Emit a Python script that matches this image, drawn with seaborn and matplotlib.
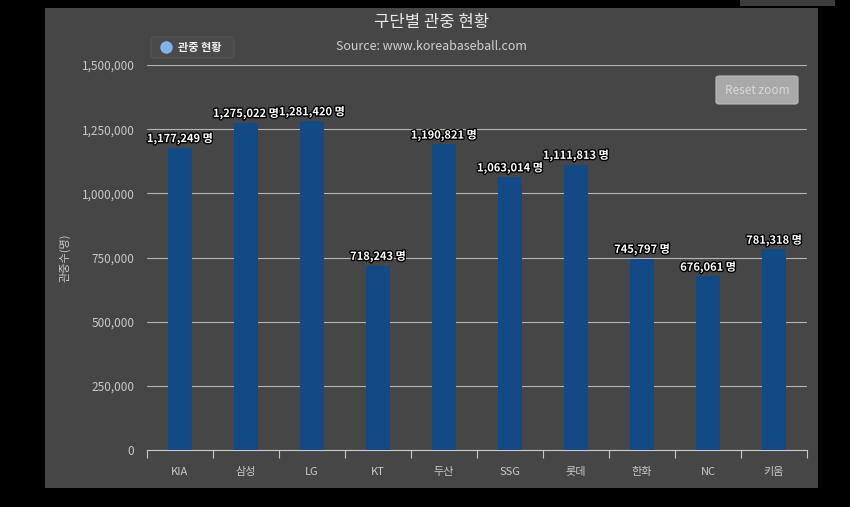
import matplotlib
matplotlib.use("Agg")
import matplotlib.pyplot as plt
import matplotlib.patheffects as pe
from matplotlib.patches import Rectangle, FancyBboxPatch
from matplotlib.lines import Line2D
import numpy as np
import seaborn as sns

# data
teams = ["KIA", "삼성", "LG", "KT", "두산", "SSG", "롯데", "한화", "NC", "키움"]
attendance = [1177249, 1275022, 1281420, 718243, 1190821, 1063014, 1111813, 745797, 676061, 781318]
y_ticks = [0, 250000, 500000, 750000, 1000000, 1250000, 1500000]

sns.set_style("dark")
plt.rcParams["font.family"] = ["Noto Sans CJK KR", "DejaVu Sans"]

W, H = 850, 507
fig = plt.figure(figsize=(W / 100, H / 100), dpi=100, facecolor="black")

def fx(px):
    return px / W

def fy(py):
    return 1 - py / H

# grey chart panel
panel_col = "#464646"
fig.patches.append(Rectangle((fx(45), fy(488)), fx(818 - 45), (488 - 8) / H,
                             transform=fig.transFigure, facecolor=panel_col, edgecolor="none", zorder=-2))
fig.patches.append(Rectangle((fx(740), fy(6)), fx(835 - 740), 6 / H,
                             transform=fig.transFigure, facecolor="#3c3c3c", edgecolor="none", zorder=-2))

ax = fig.add_axes([fx(147), fy(450), fx(807 - 147), (450 - 65) / H])
ax.set_zorder(1)
ax.set_facecolor(panel_col)

sns.barplot(x=teams, y=attendance, color="#124a86", width=0.36, saturation=1,
            edgecolor="none", linewidth=0, ax=ax, zorder=3)

ax.set_ylim(0, 1500000)
ax.set_xlim(-0.5, len(teams) - 0.5)
ax.set_yticks(y_ticks)
ax.set_yticklabels([f"{v:,}" for v in y_ticks], color="#c8c8c8", fontsize=8.5)
ax.yaxis.grid(True, color="#b4b4b4", linewidth=0.8)
ax.xaxis.grid(False)
ax.set_axisbelow(True)
ax.tick_params(axis="y", length=0, pad=9)
ax.tick_params(axis="x", which="major", length=0, pad=12, colors="#c8c8c8", labelsize=8)
ax.set_xticks(np.arange(-0.5, len(teams)), minor=True)
ax.tick_params(axis="x", which="minor", bottom=True, length=6, color="#c8c8c8", width=0.8)
for s in ["top", "right", "left"]:
    ax.spines[s].set_visible(False)
ax.spines["bottom"].set_color("#c8c8c8")
ax.spines["bottom"].set_linewidth(0.8)
ax.set_xlabel("")
ax.set_ylabel("관중수(명)", color="#c8c8c8", fontsize=8, labelpad=8)

for i, v in enumerate(attendance):
    ax.annotate(f"{v:,} 명", (i, v), xytext=(0, 2), textcoords="offset points",
                ha="center", va="bottom", color="white", fontsize=8, fontweight="bold",
                path_effects=[pe.withStroke(linewidth=2, foreground="black")], zorder=5)

# title and subtitle
fig.text(fx(432), fy(22), "구단별 관중 현황", ha="center", va="center", color="#e6e6e6", fontsize=12)
fig.text(fx(431), fy(47), "Source: www.koreabaseball.com", ha="center", va="center", color="#d0d0d0", fontsize=9)

# legend box
fig.patches.append(FancyBboxPatch((fx(151), fy(58)), fx(83), 21 / H, boxstyle="round,pad=0,rounding_size=0.004",
                                  transform=fig.transFigure, facecolor="#4a4a4a", edgecolor="#555555",
                                  linewidth=0.8, zorder=4))
fig.lines.append(Line2D([fx(166)], [fy(47)], marker="o", markersize=8, color="#7cb5ec",
                        transform=fig.transFigure, zorder=5))
fig.text(fx(178), fy(47), "관중 현황", ha="left", va="center", color="#f0f0f0",
         fontsize=8, fontweight="bold", zorder=5)

# reset zoom button
fig.patches.append(FancyBboxPatch((fx(716), fy(104)), fx(82), 28 / H, boxstyle="round,pad=0,rounding_size=0.004",
                                  transform=fig.transFigure, facecolor="#a9a9a9", edgecolor="#bcbcbc",
                                  linewidth=0.8, zorder=4))
fig.text(fx(757), fy(91), "Reset zoom", ha="center", va="center", color="#d8d8d8", fontsize=8.5, zorder=5)

fig.savefig("out.png", dpi=100, facecolor="black")
